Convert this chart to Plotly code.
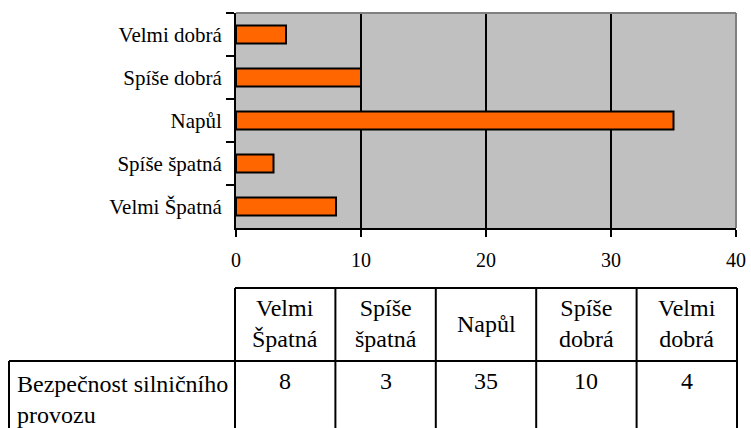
import plotly.graph_objects as go

# ---- data ----
categories = ["Velmi Špatná", "Spíše špatná", "Napůl", "Spíše dobrá", "Velmi dobrá"]
values = [8, 3, 35, 10, 4]
series_name = "Bezpečnost silničního provozu"
x_ticks = [0, 10, 20, 30, 40]

W, H = 751, 428
FONT = "'Times New Roman', Times, 'Liberation Serif', 'DejaVu Serif', serif"

def px(x):
    return x / W

def py(y):
    return 1 - y / H

x_dom = [px(236), px(736)]
y_dom = [py(228), py(13)]

fig = go.Figure()
fig.add_trace(go.Bar(
    x=values, y=categories, orientation="h",
    marker=dict(color="#FF6600", line=dict(color="black", width=2)),
    name=series_name, showlegend=False,
))

fig.update_layout(
    width=W, height=H,
    margin=dict(l=0, r=0, t=0, b=0, autoexpand=False),
    paper_bgcolor="white", plot_bgcolor="#C0C0C0",
    bargap=0.58,
    font=dict(family=FONT, color="black"),
    xaxis=dict(
        domain=x_dom, range=[0, 40], tickvals=x_ticks, automargin=False,
        showline=True, linecolor="black", linewidth=2,
        ticks="outside", ticklen=7, tickwidth=2, tickcolor="black",
        showgrid=True, gridcolor="black", gridwidth=2, zeroline=False,
        tickfont=dict(family=FONT, size=20, color="black"),
        ticklabelstandoff=6, fixedrange=True,
    ),
    yaxis=dict(
        domain=y_dom, type="category", categoryorder="array", categoryarray=categories,
        automargin=False,
        showline=True, linecolor="black", linewidth=2,
        ticks="outside", tickson="boundaries", ticklen=8, tickwidth=2, tickcolor="black",
        showgrid=False, zeroline=False,
        tickfont=dict(family=FONT, size=21, color="black"),
        ticklabelstandoff=8, fixedrange=True,
    ),
)

shapes = []
# plot-area border (top, right) in gray
shapes.append(dict(type="line", xref="x domain", yref="y domain", x0=0, x1=1, y0=1, y1=1,
                   line=dict(color="#808080", width=2), layer="above"))
shapes.append(dict(type="line", xref="x domain", yref="y domain", x0=1, x1=1, y0=0, y1=1,
                   line=dict(color="#808080", width=2), layer="above"))

# ---- data table below ----
tbl_left, tbl_x0, tbl_x1 = 9, 235, 737
hdr_top, hdr_bot, tbl_bot = 288, 361, 432
n = len(categories)
edges = [tbl_x0 + i * (tbl_x1 - tbl_x0) / n for i in range(n + 1)]
line_style = dict(color="black", width=2)
shapes.append(dict(type="line", xref="paper", yref="paper", x0=px(tbl_x0), x1=px(tbl_x1),
                   y0=py(hdr_top), y1=py(hdr_top), line=line_style))
shapes.append(dict(type="line", xref="paper", yref="paper", x0=px(tbl_left), x1=px(tbl_x1),
                   y0=py(hdr_bot), y1=py(hdr_bot), line=line_style))
shapes.append(dict(type="line", xref="paper", yref="paper", x0=px(tbl_left), x1=px(tbl_left),
                   y0=py(hdr_bot), y1=py(tbl_bot), line=line_style))
for e in edges:
    shapes.append(dict(type="line", xref="paper", yref="paper", x0=px(e), x1=px(e),
                       y0=py(hdr_top), y1=py(tbl_bot), line=line_style))

annotations = []
tfont = dict(family=FONT, size=24, color="black")
for i, (cat, val) in enumerate(zip(categories, values)):
    cx = (edges[i] + edges[i + 1]) / 2
    annotations.append(dict(xref="paper", yref="paper", x=px(cx), y=py((hdr_top + hdr_bot) / 2 - 1),
                            text=cat.replace(" ", "<br>"), showarrow=False, font=tfont,
                            xanchor="center", yanchor="middle", align="center"))
    annotations.append(dict(xref="paper", yref="paper", x=px(cx), y=py(381),
                            text=str(val), showarrow=False, font=tfont,
                            xanchor="center", yanchor="middle"))
annotations.append(dict(xref="paper", yref="paper", x=px(tbl_left + 6), y=py(399),
                        text="Bezpečnost silničního<br>provozu", showarrow=False, font=tfont,
                        xanchor="left", yanchor="middle", align="left"))

fig.update_layout(shapes=shapes, annotations=annotations)
fig.write_html("out.html", config={"displayModeBar": False},
               post_script="document.body.style.margin='0';document.body.style.padding='0';")
